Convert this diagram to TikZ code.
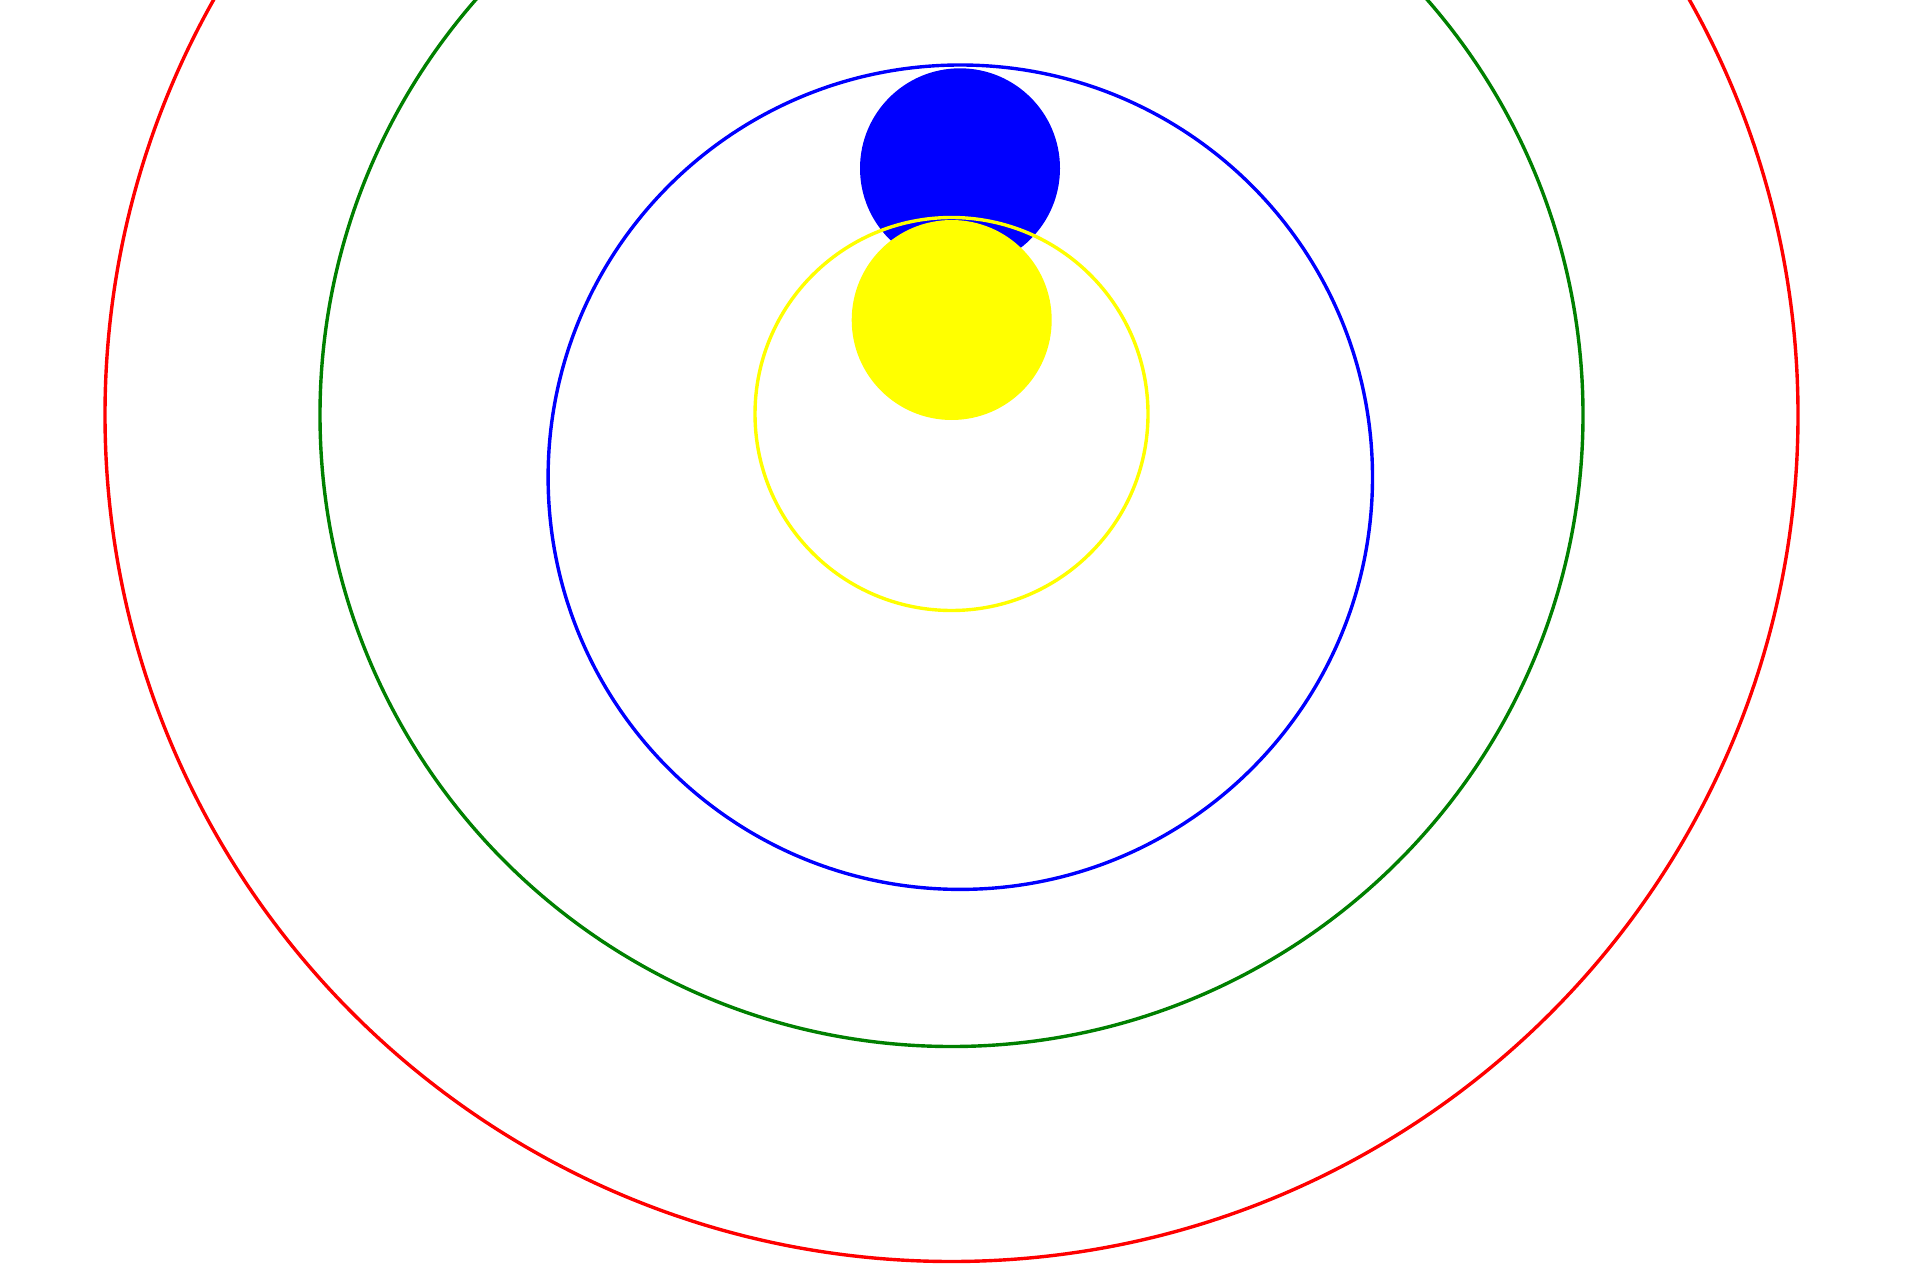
\documentclass[tikz,border=0pt]{standalone}
\definecolor{dgreen}{RGB}{0,128,0}
\definecolor{pred}{RGB}{255,0,0}
\definecolor{pblue}{RGB}{0,0,255}
\definecolor{pyellow}{RGB}{255,255,0}
\begin{document}
\begin{tikzpicture}[x=1pt,y=-1pt,
  ring/.style={line width=3.4pt,fill=none}]
\useasboundingbox (0,0) rectangle (1920,1265);
\fill[white] (0,0) rectangle (1920,1265);
\begin{scope}
\clip (0,0) rectangle (1920,1265);
\draw[ring,pred] (951.5,415) circle[radius=846.5];
\draw[ring,dgreen] (951.5,415) circle[radius=631.5];
\draw[ring,pblue] (960.3,477.2) circle[radius=412.2];
\fill[pblue] (960,168.3) circle[radius=100];
\draw[ring,pyellow] (951.5,414) circle[radius=196.5];
\fill[pyellow] (951.7,320) circle[radius=100];
\end{scope}
\end{tikzpicture}
\end{document}
